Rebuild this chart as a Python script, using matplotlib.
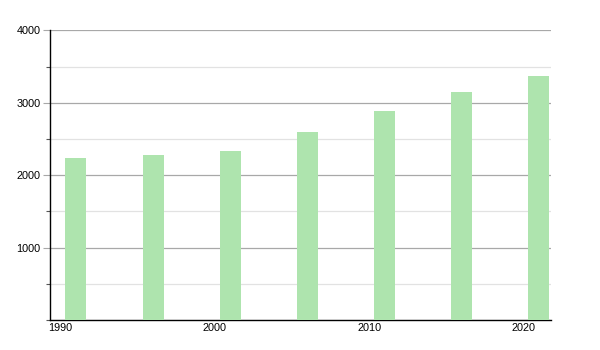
import numpy as np
import matplotlib.pyplot as plt
from matplotlib.ticker import MultipleLocator

years = [1991, 1996, 2001, 2006, 2011, 2016, 2021]
population = [2233, 2279, 2334, 2597, 2887, 3149, 3370]
x_ticks = [1990, 2000, 2010, 2020]
y_ticks = [1000, 2000, 3000, 4000]

plt.rcParams['font.family'] = ['Liberation Sans', 'DejaVu Sans']

fig = plt.figure(figsize = (6, 3.5), dpi = 100)
ax = fig.add_axes([0.0833, 0.0857, 0.8342, 0.8277])

ax.bar(years, population, width = 1.36, color = "#aee4ae", zorder = 3)

ax.set_xlim(1989.32, 2021.75)
ax.set_ylim(0, 4000)

ax.set_xticks(x_ticks)
ax.set_xticklabels([str(t) for t in x_ticks])
ax.set_yticks(y_ticks)
ax.set_yticklabels([str(t) for t in y_ticks])
ax.yaxis.set_minor_locator(MultipleLocator(500))

ax.grid(axis = "y", which = "major", color = "#a8a8a8", linewidth = 0.9, zorder = 0)
ax.grid(axis = "y", which = "minor", color = "#e2e2e2", linewidth = 0.9, zorder = 0)

ax.tick_params(axis = "x", length = 0, pad = 2, labelsize = 7.8)
ax.tick_params(axis = "y", which = "major", length = 5, width = 0.8, color = "#a8a8a8", pad = 2, labelsize = 7.8)
ax.tick_params(axis = "y", which = "minor", length = 3, width = 0.8, color = "#555555")

for side in ["top", "right"]:
    ax.spines[side].set_visible(False)
ax.spines["left"].set_linewidth(1.0)
ax.spines["bottom"].set_linewidth(1.0)

fig.savefig("out.png", dpi = 100)
